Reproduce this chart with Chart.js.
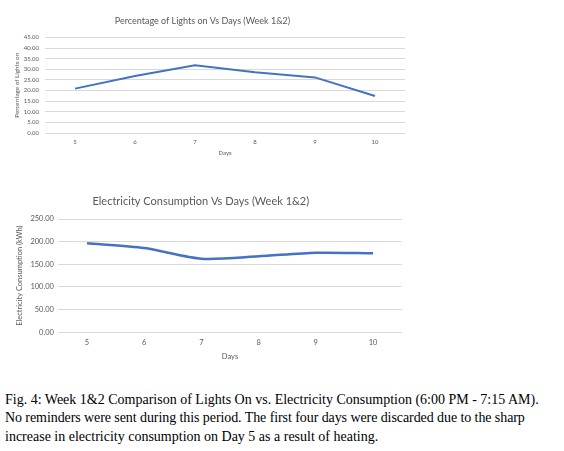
<!DOCTYPE html>
<html>
<head>
<meta charset="utf-8">
<script src="https://cdn.jsdelivr.net/npm/chart.js@4.4.1/dist/chart.umd.min.js"></script>
<style>
  html, body { margin: 0; padding: 0; background: #ffffff; }
  body { width: 564px; height: 451px; position: relative; overflow: hidden; }
  #c1 { position: absolute; left: 0; top: 0; }
  #c2 { position: absolute; left: 0; top: 180px; }
  .cap {
    position: absolute; left: 5px; white-space: nowrap;
    font-family: "Liberation Serif", "Times New Roman", serif;
    font-size: 14px; color: #000; line-height: 14px;
  }
</style>
</head>
<body>
<canvas id="c1" width="420" height="165"></canvas>
<canvas id="c2" width="420" height="185"></canvas>
<div class="cap" style="top:392.8px">Fig. 4: Week 1&amp;2 Comparison of Lights On vs. Electricity Consumption (6:00 PM - 7:15 AM).</div>
<div class="cap" style="top:410.8px;letter-spacing:-0.08px">No reminders were sent during this period. The first four days were discarded due to the sharp</div>
<div class="cap" style="top:429.8px">increase in electricity consumption on Day 5 as a result of heating.</div>
<script>
const days = ["5", "6", "7", "8", "9", "10"];
const lightsOnPct = [20.9, 26.9, 31.9, 28.6, 26.2, 17.4];
const electricityKWh = [196.4, 186.0, 162.4, 167.7, 175.6, 174.3];
const lightsTicks = [0, 5, 10, 15, 20, 25, 30, 35, 40, 45];
const electricityTicks = [0, 50, 100, 150, 200, 250];

const FONT = "Lato, 'Open Sans', sans-serif";
const GRAY = "#595959";
const GRID = "#d9d9d9";
const BLUE = "#4472C4";

function makeChart(id, cfg) {
  return new Chart(document.getElementById(id), {
    type: "line",
    data: {
      labels: days,
      datasets: [{
        data: cfg.values,
        borderColor: BLUE,
        borderWidth: cfg.lineWidth,
        pointRadius: 0,
        tension: cfg.tension,
        fill: false
      }]
    },
    options: {
      responsive: false,
      animation: false,
      devicePixelRatio: 1,
      layout: { padding: { left: 0, right: cfg.rightPad, top: 0, bottom: 0 } },
      plugins: {
        legend: { display: false },
        tooltip: { enabled: false },
        title: {
          display: true,
          text: cfg.title,
          color: GRAY,
          font: { family: FONT, size: cfg.titleSize, weight: "normal", lineHeight: 1.2 },
          padding: { top: cfg.titleTop, bottom: cfg.titleBottom }
        }
      },
      scales: {
        x: {
          offset: true,
          grid: { display: false, drawTicks: false },
          border: { display: false },
          ticks: { color: GRAY, font: { family: FONT, size: cfg.tickSize }, padding: cfg.xTickPad, maxRotation: 0 },
          title: {
            display: true, text: "Days", color: GRAY,
            font: { family: FONT, size: cfg.tickSize, lineHeight: 1.2 },
            padding: { top: 0, bottom: cfg.xTitleBottom }
          },
          afterFit: s => { s.height = cfg.xHeight; }
        },
        y: {
          min: 0,
          max: cfg.ticks[cfg.ticks.length - 1],
          afterBuildTicks: s => { s.ticks = cfg.ticks.map(v => ({ value: v })); },
          grid: { color: GRID, lineWidth: 1, drawTicks: false },
          border: { display: false },
          ticks: {
            color: GRAY, font: { family: FONT, size: cfg.tickSize }, padding: cfg.yTickPad,
            callback: v => Number(v).toFixed(2)
          },
          title: {
            display: true, text: cfg.yTitle, color: GRAY,
            font: { family: FONT, size: cfg.yTitleSize, lineHeight: 1.2 },
            padding: { top: cfg.yTitleTop, bottom: 0 }
          },
          afterFit: s => { s.width = cfg.yWidth; }
        }
      }
    }
  });
}

makeChart("c1", {
  values: lightsOnPct, ticks: lightsTicks,
  title: "Percentage of Lights on Vs Days (Week 1&2)",
  yTitle: "Percentage of Lights on",
  titleSize: 9, titleTop: 15.6, titleBottom: 11.1,
  tickSize: 6, yTitleSize: 6.3, yTitleTop: 13.2,
  xTickPad: 5, xTitleBottom: 8.4, xHeight: 32,
  yTickPad: 6, yWidth: 45, rightPad: 15,
  lineWidth: 2, tension: 0
});

makeChart("c2", {
  values: electricityKWh, ticks: electricityTicks,
  title: "Electricity Consumption Vs Days (Week 1&2)",
  yTitle: "Electricity Consumption (kWh)",
  titleSize: 11, titleTop: 14.4, titleBottom: 11.4,
  tickSize: 7.5, yTitleSize: 7.5, yTitleTop: 15.5,
  xTickPad: 6, xTitleBottom: 3.8, xHeight: 32.7,
  yTickPad: 4.5, yWidth: 58.4, rightPad: 18.4,
  lineWidth: 2.5, tension: 0.25
});
</script>
</body>
</html>
